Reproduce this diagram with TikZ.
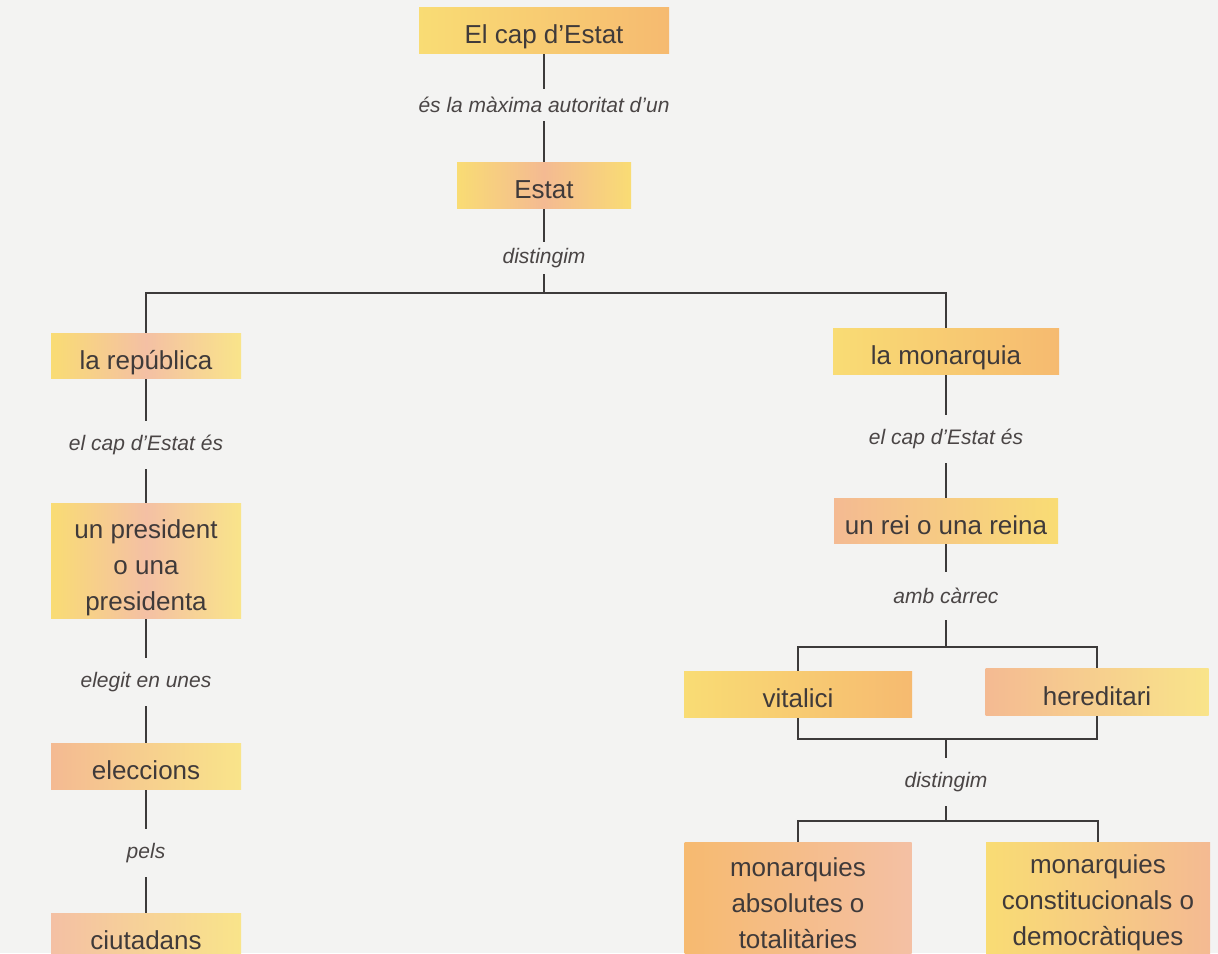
\documentclass[tikz,border=0pt]{standalone}
\usepackage{fontspec}
\setmainfont{Liberation Sans}
\usetikzlibrary{backgrounds}
\definecolor{bg}{HTML}{F3F3F2}
\definecolor{linec}{HTML}{3C3A3A}
\definecolor{boxtext}{HTML}{3F3A3A}
\definecolor{lbltext}{HTML}{4A4545}
\definecolor{yel}{HTML}{F9DC74}
\definecolor{yelpale}{HTML}{F9E48A}
\definecolor{ora}{HTML}{F6BA70}
\definecolor{orapink}{HTML}{F4BA92}
\definecolor{pink}{HTML}{F4C0A4}
\begin{document}
\begin{tikzpicture}[x=1pt,y=-1pt,
  box/.style={rectangle, inner sep=0pt, text=boxtext, align=center,
    font=\fontsize{26}{36}\selectfont, text height=26pt, text depth=0pt},
  mbox/.style={rectangle, inner sep=0pt, text=boxtext, align=center,
    font=\fontsize{26}{36}\selectfont},
  lbl/.style={inner sep=0pt, minimum height=48pt, text=lbltext,
    font=\fontsize{21}{24}\selectfont\itshape},
  lblshort/.style={lbl, minimum height=32pt},
  conn/.style={draw=linec, line width=1.4pt}]
\clip (0,0) rectangle (1218,953);
\useasboundingbox (0,0) rectangle (1218,953);

% boxes
\node[box, minimum width=250pt, minimum height=46pt, left color=yel, right color=ora] (cap) at (544,30) {El cap d’Estat};
\node[lblshort] (l1) at (544,105) {és la màxima autoritat d’un};
\node[box, minimum width=174pt, minimum height=46pt, left color=yel, right color=yel, middle color=orapink] (estat) at (544,185) {Estat};
\node[lblshort] (l2) at (544,258) {distingim};

\node[box, minimum width=190pt, minimum height=45pt, left color=yel, right color=yelpale, middle color=pink] (rep) at (146,356) {la república};
\node[lbl] (l3) at (146,445) {el cap d’Estat és};
\node[mbox, minimum width=190pt, minimum height=115pt, text height=98pt, text depth=0pt, left color=yel, right color=yelpale, middle color=pink] (pres) at (146,561) {un president\\o una\\presidenta};
\node[lbl] (l4) at (146,682) {elegit en unes};
\node[box, minimum width=190pt, minimum height=46pt, left color=orapink, right color=yelpale] (elec) at (146,766) {eleccions};
\node[lbl] (l5) at (146,853) {pels};
\node[box, minimum width=190pt, minimum height=46pt, left color=pink, right color=yelpale] (ciut) at (146,936) {ciutadans};

\node[box, minimum width=226pt, minimum height=46pt, left color=yel, right color=ora] (mon) at (946,351) {la monarquia};
\node[lbl] (l6) at (946,439) {el cap d’Estat és};
\node[box, minimum width=224pt, minimum height=45pt, left color=orapink, right color=yel] (rei) at (946,521) {un rei o una reina};
\node[lbl] (l7) at (946,596) {amb càrrec};
\node[box, minimum width=228pt, minimum height=46pt, left color=yel, right color=ora] (vit) at (798,694) {vitalici};
\node[box, minimum width=223pt, minimum height=47pt, left color=orapink, right color=yelpale] (her) at (1097,692) {hereditari};
\node[lbl] (l8) at (946,782) {distingim};
\node[mbox, minimum width=227pt, minimum height=122pt, left color=ora, right color=pink] (abs) at (798,903) {monarquies\\absolutes o\\totalitàries};
\node[mbox, minimum width=224pt, minimum height=122pt, left color=yel, right color=orapink] (con) at (1098,903) {monarquies\\constitucionals o\\democràtiques};

\coordinate (j1) at (544,293);
\coordinate (j2) at (946,647);
\coordinate (j3) at (946,739);
\coordinate (j4) at (946,821);

\begin{pgfonlayer}{background}
\fill[bg] (0,0) rectangle (1218,953);
\draw[conn] (cap) -- (l1);
\draw[conn] (l1) -- (estat);
\draw[conn] (estat) -- (l2);
\draw[conn] (l2) -- (j1);
\draw[conn] (rep.center) |- (j1) -| (mon.center);
\draw[conn] (rep) -- (l3);
\draw[conn] (l3) -- (pres);
\draw[conn] (pres) -- (l4);
\draw[conn] (l4) -- (elec);
\draw[conn] (elec) -- (l5);
\draw[conn] (l5) -- (ciut);
\draw[conn] (mon) -- (l6);
\draw[conn] (l6) -- (rei);
\draw[conn] (rei) -- (l7);
\draw[conn] (l7) -- (j2);
\draw[conn] (vit.center) |- (j2) -| (her.center);
\draw[conn] (vit.center) |- (j3) -| (her.center);
\draw[conn] (j3) -- (l8);
\draw[conn] (l8) -- (j4);
\draw[conn] (abs.center) |- (j4) -| (con.center);
\end{pgfonlayer}
\end{tikzpicture}
\end{document}
